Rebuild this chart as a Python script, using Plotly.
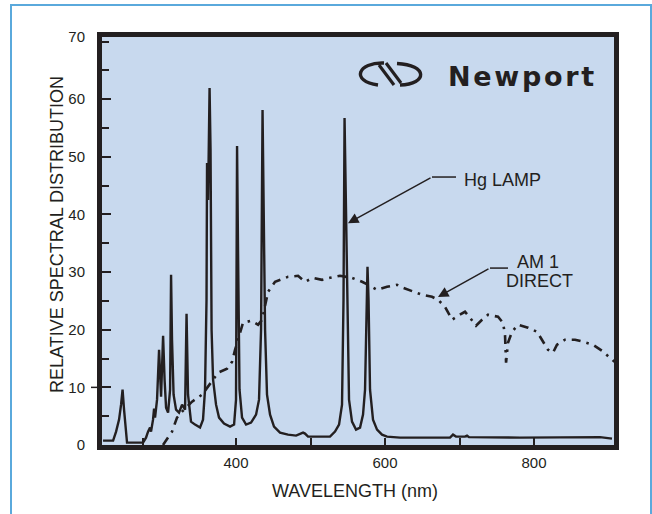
import plotly.graph_objects as go

# ---------------- data ----------------
hg_nm = [221.5, 235.0, 239.0, 243.0, 245.7, 247.7, 249.7, 252.4, 253.7, 275.2,
         279.2, 281.9, 284.6, 285.9, 288.6, 290.0, 291.3, 294.0, 296.7, 299.4,
         302.1, 304.1, 306.1, 308.8, 311.5, 312.8, 314.1, 316.2, 319.5, 323.5,
         327.6, 331.6, 333.6, 335.6, 339.6, 345.0, 351.7, 355.7, 358.4, 360.4,
         361.1, 362.5, 364.5, 365.8, 367.2, 369.2, 373.2, 377.2, 383.9, 392.0,
         397.4, 400.0, 401.4, 402.7, 404.7, 408.1, 413.5, 420.2, 426.9, 430.9,
         433.6, 435.6, 436.9, 437.6, 439.0, 441.6, 445.7, 451.0, 459.1, 469.8,
         480.6, 490.0, 492.6, 496.7, 512.8, 526.2, 532.9, 538.3, 542.3, 544.3,
         545.7, 547.0, 548.4, 549.7, 551.7, 555.7, 561.1, 566.5, 570.5, 573.2,
         575.2, 576.5, 577.9, 579.9, 583.9, 589.3, 596.0, 602.7, 620.2, 687.3,
         691.3, 695.3, 707.4, 710.1, 712.8, 781.2, 888.6, 904.7]
hg_val = [0.76, 0.76, 2.32, 4.40, 7.00, 9.60, 6.14, 1.63, 0.42, 0.42,
          1.28, 2.32, 3.02, 2.32, 4.40, 6.31, 4.75, 7.87, 16.53, 8.39,
          18.96, 11.33, 6.48, 5.62, 9.60, 29.53, 18.27, 8.73, 6.14, 5.62,
          7.00, 6.14, 22.77, 8.73, 4.06, 3.54, 3.02, 4.40, 9.60, 25.20,
          48.95, 42.53, 61.94, 51.20, 20.00, 11.33, 7.00, 4.75, 3.71, 3.19,
          3.54, 7.87, 51.89, 33.86, 9.60, 4.75, 3.54, 3.88, 5.27, 7.87,
          20.00, 58.13, 42.53, 36.98, 20.00, 8.73, 5.27, 3.19, 2.15, 1.80,
          1.63, 2.15, 1.98, 1.46, 1.46, 1.46, 2.32, 3.54, 7.00, 25.20,
          56.74, 45.99, 38.72, 20.00, 7.87, 4.06, 2.67, 3.02, 5.27, 9.60,
          25.20, 30.92, 25.20, 9.60, 4.40, 2.67, 1.80, 1.46, 1.28, 1.28,
          1.80, 1.46, 1.46, 1.63, 1.37, 1.28, 1.37, 1.11]

am1_nm = [302.0, 308.8, 314.1, 320.8, 327.6, 341.0, 354.4, 369.2, 375.9, 388.0,
          394.7, 398.7, 405.4, 409.4, 420.2, 429.6, 435.0, 443.0, 452.4, 469.8,
          483.3, 492.6, 503.4, 515.5, 526.2, 539.6, 555.7, 569.2, 579.9, 589.3,
          602.7, 616.1, 624.2, 637.6, 649.7, 663.1, 671.2, 680.5, 690.0, 698.0,
          707.4, 714.1, 722.2, 730.2, 738.3, 751.7, 758.4, 761.1, 762.5, 765.1,
          767.8, 770.5, 778.5, 792.0, 804.1, 810.8, 818.8, 825.5, 830.9, 841.6,
          855.1, 865.8, 879.2, 891.3, 899.4, 908.0]
am1_val = [0.0, 1.28, 2.32, 4.75, 5.79, 7.52, 8.73, 11.33, 12.55, 13.24,
           14.45, 16.53, 19.48, 21.21, 21.56, 20.87, 21.73, 26.59, 28.32, 29.18,
           29.36, 28.32, 29.01, 28.66, 29.01, 29.36, 29.01, 28.32, 27.62, 26.93,
           27.45, 27.80, 27.28, 26.59, 26.07, 25.72, 25.20, 23.99, 21.73, 22.43,
           23.12, 22.08, 20.69, 21.73, 22.60, 22.25, 21.21, 19.13, 14.28, 17.75,
           18.79, 19.65, 20.87, 20.35, 19.65, 18.27, 16.53, 16.01, 17.40, 18.27,
           18.27, 17.92, 17.40, 16.36, 15.49, 14.45]

# the top label "70" sits on the upper frame edge in the reference
Y_TOP = 70.8
y_ticks = [0, 10, 20, 30, 40, 50, 60, Y_TOP]
y_tick_text = ["0", "10", "20", "30", "40", "50", "60", "70"]
x_ticks = [275, 400, 500, 600, 700, 800]
x_tick_text = ["", "400", "", "600", "", "800"]

INK = "#231f20"
FONT = "Liberation Sans"

# ---------------- layout geometry helpers ----------------
W, H = 652, 514
L, R, T, B = 102, 614, 37, 445          # plot area in pixels


def px(x):
    return (x - L) / (R - L)


def py(y):
    return (B - y) / (B - T)


fig = go.Figure()
fig.add_trace(go.Scatter(x=am1_nm, y=am1_val, mode="lines",
                         line=dict(color=INK, width=2.6, dash="9px,6px,2.5px,6px"),
                         showlegend=False, hoverinfo="skip"))
fig.add_trace(go.Scatter(x=hg_nm, y=hg_val, mode="lines",
                         line=dict(color=INK, width=2.4),
                         showlegend=False, hoverinfo="skip"))

fig.update_layout(
    width=W, height=H,
    margin=dict(l=L, r=W - R, t=T, b=H - B, pad=0),
    paper_bgcolor="white", plot_bgcolor="#c8d9ee",
    font=dict(family=FONT, color=INK, size=15),
    showlegend=False,
)
fig.update_xaxes(range=[220.1, 907.4], showgrid=False, zeroline=False,
                 showline=True, mirror=True, linewidth=5, linecolor=INK,
                 tickmode="array", tickvals=x_ticks, ticktext=x_tick_text,
                 ticks="inside", ticklen=7, tickwidth=1.5, tickcolor=INK,
                 ticklabelstandoff=0,
                 tickfont=dict(size=15, color=INK, family=FONT))
fig.update_yaxes(range=[0, Y_TOP], showgrid=False, zeroline=False,
                 showline=True, mirror=True, linewidth=5, linecolor=INK,
                 tickmode="array", tickvals=y_ticks, ticktext=y_tick_text,
                 ticks="inside", ticklen=9, tickwidth=1.5, tickcolor=INK,
                 ticklabelstandoff=9,
                 minor=dict(dtick=5, tick0=0, ticks="inside", ticklen=7,
                            tickwidth=1.5, tickcolor=INK, showgrid=False),
                 tickfont=dict(size=15, color=INK, family=FONT))

shapes = []
# light blue page border
shapes.append(dict(type="rect", xref="paper", yref="paper",
                   x0=px(11), x1=px(651), y0=py(540), y1=py(5),
                   line=dict(color="#5aa9dc", width=2), layer="below"))
# small outer tick at 10
shapes.append(dict(type="line", xref="paper", yref="y",
                   x0=px(91), x1=px(97), y0=10, y1=10,
                   line=dict(color=INK, width=1.5)))
# leader lines (horizontal parts)
shapes.append(dict(type="line", xref="x", yref="y", x0=663.1, x1=695.3,
                   y0=46.5, y1=46.5, line=dict(color=INK, width=1.5)))
shapes.append(dict(type="line", xref="x", yref="y", x0=740.9, x1=765.1,
                   y0=30.7, y1=30.7, line=dict(color=INK, width=1.5)))


# Newport logo mark
def P(x, y):
    return f"{px(x):.5f},{py(y):.5f}"


logo_paths = [
    f"M {P(384, 63)} C {P(358, 62)} {P(350, 81)} {P(378, 85)}",
    f"M {P(397, 63.5)} C {P(428, 65)} {P(428, 84)} {P(400, 85)}",
]
for pth in logo_paths:
    shapes.append(dict(type="path", xref="paper", yref="paper", path=pth,
                       line=dict(color=INK, width=3.4)))
for (xa, ya, xb, yb) in [(379, 65, 394, 85), (386, 63, 401, 83)]:
    shapes.append(dict(type="line", xref="paper", yref="paper",
                       x0=px(xa), y0=py(ya), x1=px(xb), y1=py(yb),
                       line=dict(color=INK, width=3.2)))
fig.update_layout(shapes=shapes)

ann = []
ann.append(dict(xref="paper", yref="paper", x=px(446), y=py(76),
                xanchor="left", yanchor="middle", showarrow=False,
                text="N\u200ae\u200aw\u200ap\u200ao\u200ar\u200at",
                font=dict(family="DejaVu Sans", size=27, color=INK,
                          weight="bold")))
ann.append(dict(xref="paper", yref="paper", x=px(57), y=py(235),
                xanchor="center", yanchor="middle",
                textangle=-90, showarrow=False,
                text="RELATIVE SPECTRAL DISTRIBUTION",
                font=dict(family=FONT, size=18, color=INK)))
ann.append(dict(xref="paper", yref="paper", x=px(355), y=py(491),
                xanchor="center", yanchor="middle",
                showarrow=False, text="WAVELENGTH (nm)",
                font=dict(family=FONT, size=18, color=INK)))
ann.append(dict(xref="x", yref="y", x=703.4, y=46.0, xanchor="left",
                yanchor="middle", showarrow=False, text="Hg LAMP",
                font=dict(family=FONT, size=18, color=INK)))
ann.append(dict(xref="x", yref="y", x=805.4, y=31.75, showarrow=False,
                xanchor="center", yanchor="middle",
                text="AM 1", font=dict(family=FONT, size=18, color=INK)))
ann.append(dict(xref="x", yref="y", x=808.0, y=28.46, showarrow=False,
                xanchor="center", yanchor="middle",
                text="DIRECT", font=dict(family=FONT, size=18, color=INK)))
# arrows
ann.append(dict(xref="x", yref="y", x=550.3, y=38.5, axref="x", ayref="y",
                ax=663.1, ay=46.5, text="", showarrow=True, arrowhead=2,
                arrowsize=1.4, arrowwidth=1.5, arrowcolor=INK, standoff=0))
ann.append(dict(xref="x", yref="y", x=671.1, y=25.7, axref="x", ayref="y",
                ax=740.9, ay=30.7, text="", showarrow=True, arrowhead=2,
                arrowsize=1.4, arrowwidth=1.5, arrowcolor=INK, standoff=0))
fig.update_layout(annotations=ann)

fig.write_html("out.html")
